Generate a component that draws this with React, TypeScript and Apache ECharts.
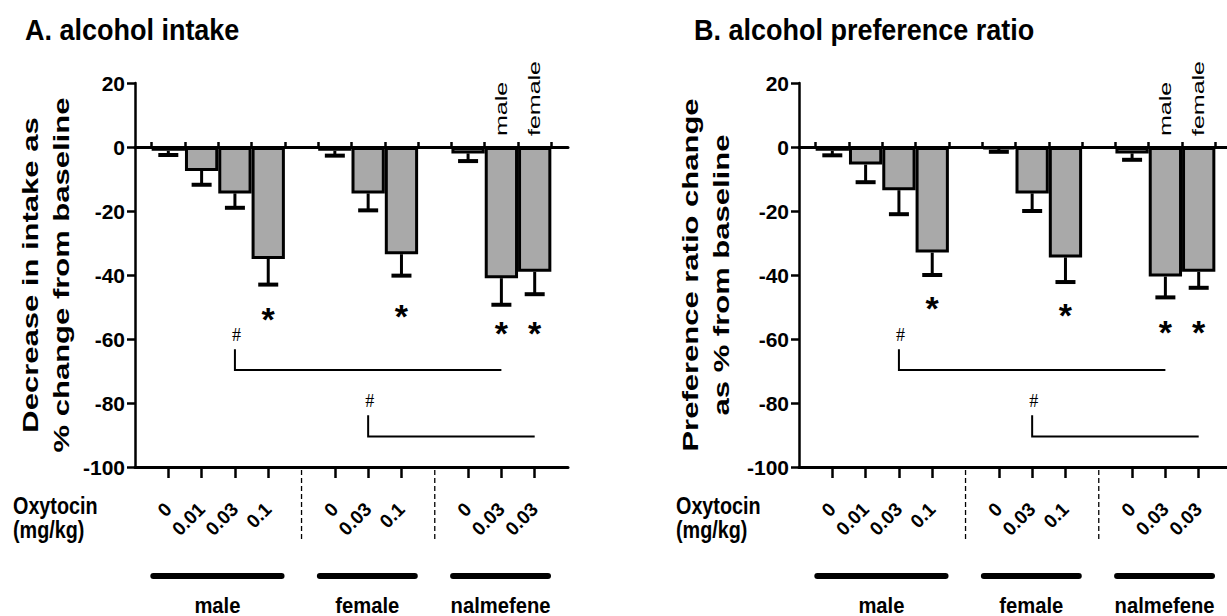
import { useEffect, useRef } from 'react';
import * as echarts from 'echarts';

// ---------- data ----------
const titles = ['A. alcohol intake', 'B. alcohol preference ratio'];
const yNames = ['Decrease in intake as\n% change from baseline', 'Preference ratio change\nas % from baseline'];
const doseTitle = 'Oxytocin\n(mg/kg)';
const groupNames = ['male', 'female', 'nalmefene'];
const doseLabels = [['0', '0.01', '0.03', '0.1'], ['0', '0.03', '0.1'], ['0', '0.03', '0.03']];
const sexLabels = ['male', 'female'];
const sexLabelBars = [8, 9];

// bar order: male 0, 0.01, 0.03, 0.1 | female 0, 0.03, 0.1 | nalmefene 0, male 0.03, female 0.03
const intakeMean = [-1.2, -7.5, -14.5, -35, -1.2, -14.5, -33.5, -2, -41, -39];
const intakeSem = [1.3, 4.3, 4.5, 8, 1.5, 5.3, 6.7, 2.4, 8.3, 7];
const prefMean = [-1.2, -5.5, -13.5, -33, -0.6, -14.5, -34.5, -2, -40.5, -39];
const prefSem = [1.4, 5.5, 7.5, 7, 0.9, 5.5, 7.7, 2, 6.5, 5];

const starBars = [3, 6, 8, 9];
const intakeStarY = [-51.7, -50.6, -55.8, -55.8];
const prefStarY = [-48, -50.3, -55.6, -55.6];

const bracketBars = [[2, 8], [5, 9]];
const bracketTopY = [-63.2, -83.8];
const bracketLineY = [-69.7, -90.5];

const yMin = -100;
const yMax = 20;
const yStep = 20;

// ---------- derived slot layout ----------
const slots: number[] = [];
const gaps: number[] = [];
const groupSlots: number[][] = [];
let cursor = 0;
doseLabels.forEach((g, gi) => {
  const s: number[] = [];
  g.forEach(() => { s.push(cursor); slots.push(cursor); cursor++; });
  groupSlots.push(s);
  if (gi < doseLabels.length - 1) gaps.push(cursor);
  cursor++;
});
const xMax = cursor - 1;
const flatLabels = doseLabels.flat();
const labelBySlot: Record<number, string> = {};
slots.forEach((k, i) => { labelBySlot[k] = flatLabels[i]; });
const edgeSet = new Set<number>();
slots.forEach((k) => { edgeSet.add(k - 0.5); edgeSet.add(k + 0.5); });
const edges = Array.from(edgeSet).sort((a, b) => a - b);

const FONT = '"Liberation Sans", Arial, sans-serif';

const panels = [
  { left: 135, titleX: 25, nameX: 46.5, doseX: 13, mean: intakeMean, sem: intakeSem, starY: intakeStarY },
  { left: 799, titleX: 694, nameX: 706, doseX: 676, mean: prefMean, sem: prefSem, starY: prefStarY },
];

export default function App() {
  const ref = useRef<HTMLDivElement>(null);
  useEffect(() => {
    const chart = echarts.init(ref.current!, null, { renderer: 'svg' });
    const grid: any[] = [];
    const xAxis: any[] = [];
    const yAxis: any[] = [];
    const series: any[] = [];
    const graphic: any[] = [];
    const gridTop = 83;
    const gridH = 384;

    panels.forEach((p, pi) => {
      grid.push({ left: p.left, top: gridTop, width: 433, height: gridH, containLabel: false, outerBoundsMode: 'none' });
      const xb = pi * 2;
      xAxis.push({
        type: 'value', gridIndex: pi, position: 'bottom', min: -1, max: xMax,
        axisLine: { show: true, onZero: false, lineStyle: { color: '#000', width: 3 } },
        axisTick: { show: true, customValues: slots, length: 11, lineStyle: { color: '#000', width: 2.5 } },
        axisLabel: {
          show: true, customValues: slots, formatter: (v: number) => labelBySlot[v] ?? '',
          rotate: 45, margin: 39, color: '#000', fontFamily: FONT, fontWeight: 'bold', fontSize: 19,
        },
        splitLine: { show: false },
      });
      xAxis.push({
        type: 'value', gridIndex: pi, position: 'top', min: -1, max: xMax,
        axisLine: { show: true, onZero: true, lineStyle: { color: '#000', width: 3 } },
        axisTick: { show: true, customValues: edges, length: 5, lineStyle: { color: '#000', width: 2.5 } },
        axisLabel: { show: false },
        splitLine: { show: false },
      });
      yAxis.push({
        type: 'value', gridIndex: pi, min: yMin, max: yMax, interval: yStep,
        axisLine: { show: true, onZero: false, lineStyle: { color: '#000', width: 2.5 } },
        axisTick: { show: true, length: 8, lineStyle: { color: '#000', width: 2.5 } },
        axisLabel: { color: '#000', fontFamily: FONT, fontWeight: 'bold', fontSize: 21, margin: 10 },
        splitLine: { show: false },
      });

      const common = { xAxisIndex: xb, yAxisIndex: pi, silent: true };

      series.push({
        ...common, type: 'bar', data: slots.map((k, i) => [k, p.mean[i]]), barWidth: 33.3,
        itemStyle: { color: '#a9a9a9', borderColor: '#000', borderWidth: 3 }, z: 2,
      });

      series.push({
        ...common, type: 'custom', z: 3,
        data: slots.map((k, i) => [k, p.mean[i], p.sem[i]]),
        renderItem: (_: any, api: any) => {
          const k = api.value(0), m = api.value(1), e = api.value(2);
          const a = api.coord([k, m]);
          const b = api.coord([k, m - e]);
          return {
            type: 'group', children: [
              { type: 'line', shape: { x1: a[0], y1: a[1], x2: b[0], y2: b[1] }, style: { stroke: '#000', lineWidth: 3 } },
              { type: 'line', shape: { x1: b[0] - 10, y1: b[1], x2: b[0] + 10, y2: b[1] }, style: { stroke: '#000', lineWidth: 4 } },
            ],
          };
        },
      });

      series.push({
        ...common, type: 'custom', z: 4,
        data: starBars.map((b, i) => [slots[b], p.starY[i]]),
        renderItem: (_: any, api: any) => {
          const c = api.coord([api.value(0), api.value(1)]);
          return {
            type: 'text', x: c[0], y: c[1] + 7,
            style: { text: '*', fill: '#000', font: `bold 34px ${FONT}`, align: 'center', verticalAlign: 'middle' },
          };
        },
      });

      series.push({
        ...common, type: 'custom', z: 4,
        data: bracketBars.map((b, i) => [slots[b[0]], slots[b[1]], bracketTopY[i], bracketLineY[i]]),
        renderItem: (_: any, api: any) => {
          const x1 = api.value(0), x2 = api.value(1), yt = api.value(2), yl = api.value(3);
          const a = api.coord([x1, yt]);
          const b = api.coord([x1, yl]);
          const c = api.coord([x2, yl]);
          return {
            type: 'group', children: [
              { type: 'polyline', shape: { points: [a, b, c] }, style: { stroke: '#000', lineWidth: 2, fill: 'none' } },
              { type: 'text', x: a[0] + 1.5, y: a[1] - 14, style: { text: '#', fill: '#000', font: '18px "Liberation Serif", serif', align: 'center', verticalAlign: 'middle' } },
            ],
          };
        },
      });

      series.push({
        ...common, type: 'custom', z: 4, clip: false,
        data: sexLabelBars.map((b) => [slots[b], 0]),
        renderItem: (params: any, api: any) => {
          const c = api.coord([api.value(0), 0]);
          return {
            type: 'text', x: c[0], y: c[1] - 11, rotation: Math.PI / 2, scaleX: 1, scaleY: 0.68,
            style: { text: sexLabels[params.dataIndex], fill: '#000', font: `25px ${FONT}`, align: 'left', verticalAlign: 'middle' },
          };
        },
      });

      series.push({
        ...common, type: 'custom', z: 4, clip: false,
        data: gaps.map((g) => [g, yMin]),
        renderItem: (_: any, api: any) => {
          const c = api.coord([api.value(0), yMin]);
          return {
            type: 'line', shape: { x1: c[0], y1: c[1] + 3, x2: c[0], y2: c[1] + 74 },
            style: { stroke: '#000', lineWidth: 1.3, lineDash: [5, 3] },
          };
        },
      });

      series.push({
        ...common, type: 'custom', z: 4, clip: false,
        data: groupSlots.map((s) => [s[0] - 0.45, s[s.length - 1] + 0.4]),
        renderItem: (params: any, api: any) => {
          const a = api.coord([api.value(0), yMin]);
          const b = api.coord([api.value(1), yMin]);
          const y = a[1] + 109;
          return {
            type: 'group', children: [
              { type: 'line', shape: { x1: a[0], y1: y, x2: b[0], y2: y }, style: { stroke: '#000', lineWidth: 6, lineCap: 'round' } },
              { type: 'text', x: (a[0] + b[0]) / 2, y: a[1] + 138, scaleX: 0.92, style: { text: groupNames[params.dataIndex], fill: '#000', font: `bold 22px ${FONT}`, align: 'center', verticalAlign: 'middle' } },
            ],
          };
        },
      });

      graphic.push({
        type: 'text', x: p.titleX, y: 29, scaleX: 0.9, silent: true,
        style: { text: titles[pi], fill: '#000', font: `bold 30px ${FONT}`, align: 'left', verticalAlign: 'middle' },
      });
      graphic.push({
        type: 'text', x: p.nameX, y: gridTop + gridH / 2, rotation: Math.PI / 2, scaleY: 0.7, silent: true,
        style: { text: yNames[pi], fill: '#000', font: `bold 31px ${FONT}`, lineHeight: 44, align: 'center', verticalAlign: 'middle' },
      });
      graphic.push({
        type: 'text', x: p.doseX, y: 518.5, scaleX: 0.86, silent: true,
        style: { text: doseTitle, fill: '#000', font: `bold 23px ${FONT}`, lineHeight: 24, align: 'left', verticalAlign: 'middle' },
      });
    });

    chart.setOption({
      animation: false,
      backgroundColor: '#fff',
      grid, xAxis, yAxis, series, graphic,
    });
    return () => chart.dispose();
  }, []);

  return <div ref={ref} style={{ position: 'fixed', left: 0, top: 0, width: 1227, height: 616, background: '#fff' }} />;
}
